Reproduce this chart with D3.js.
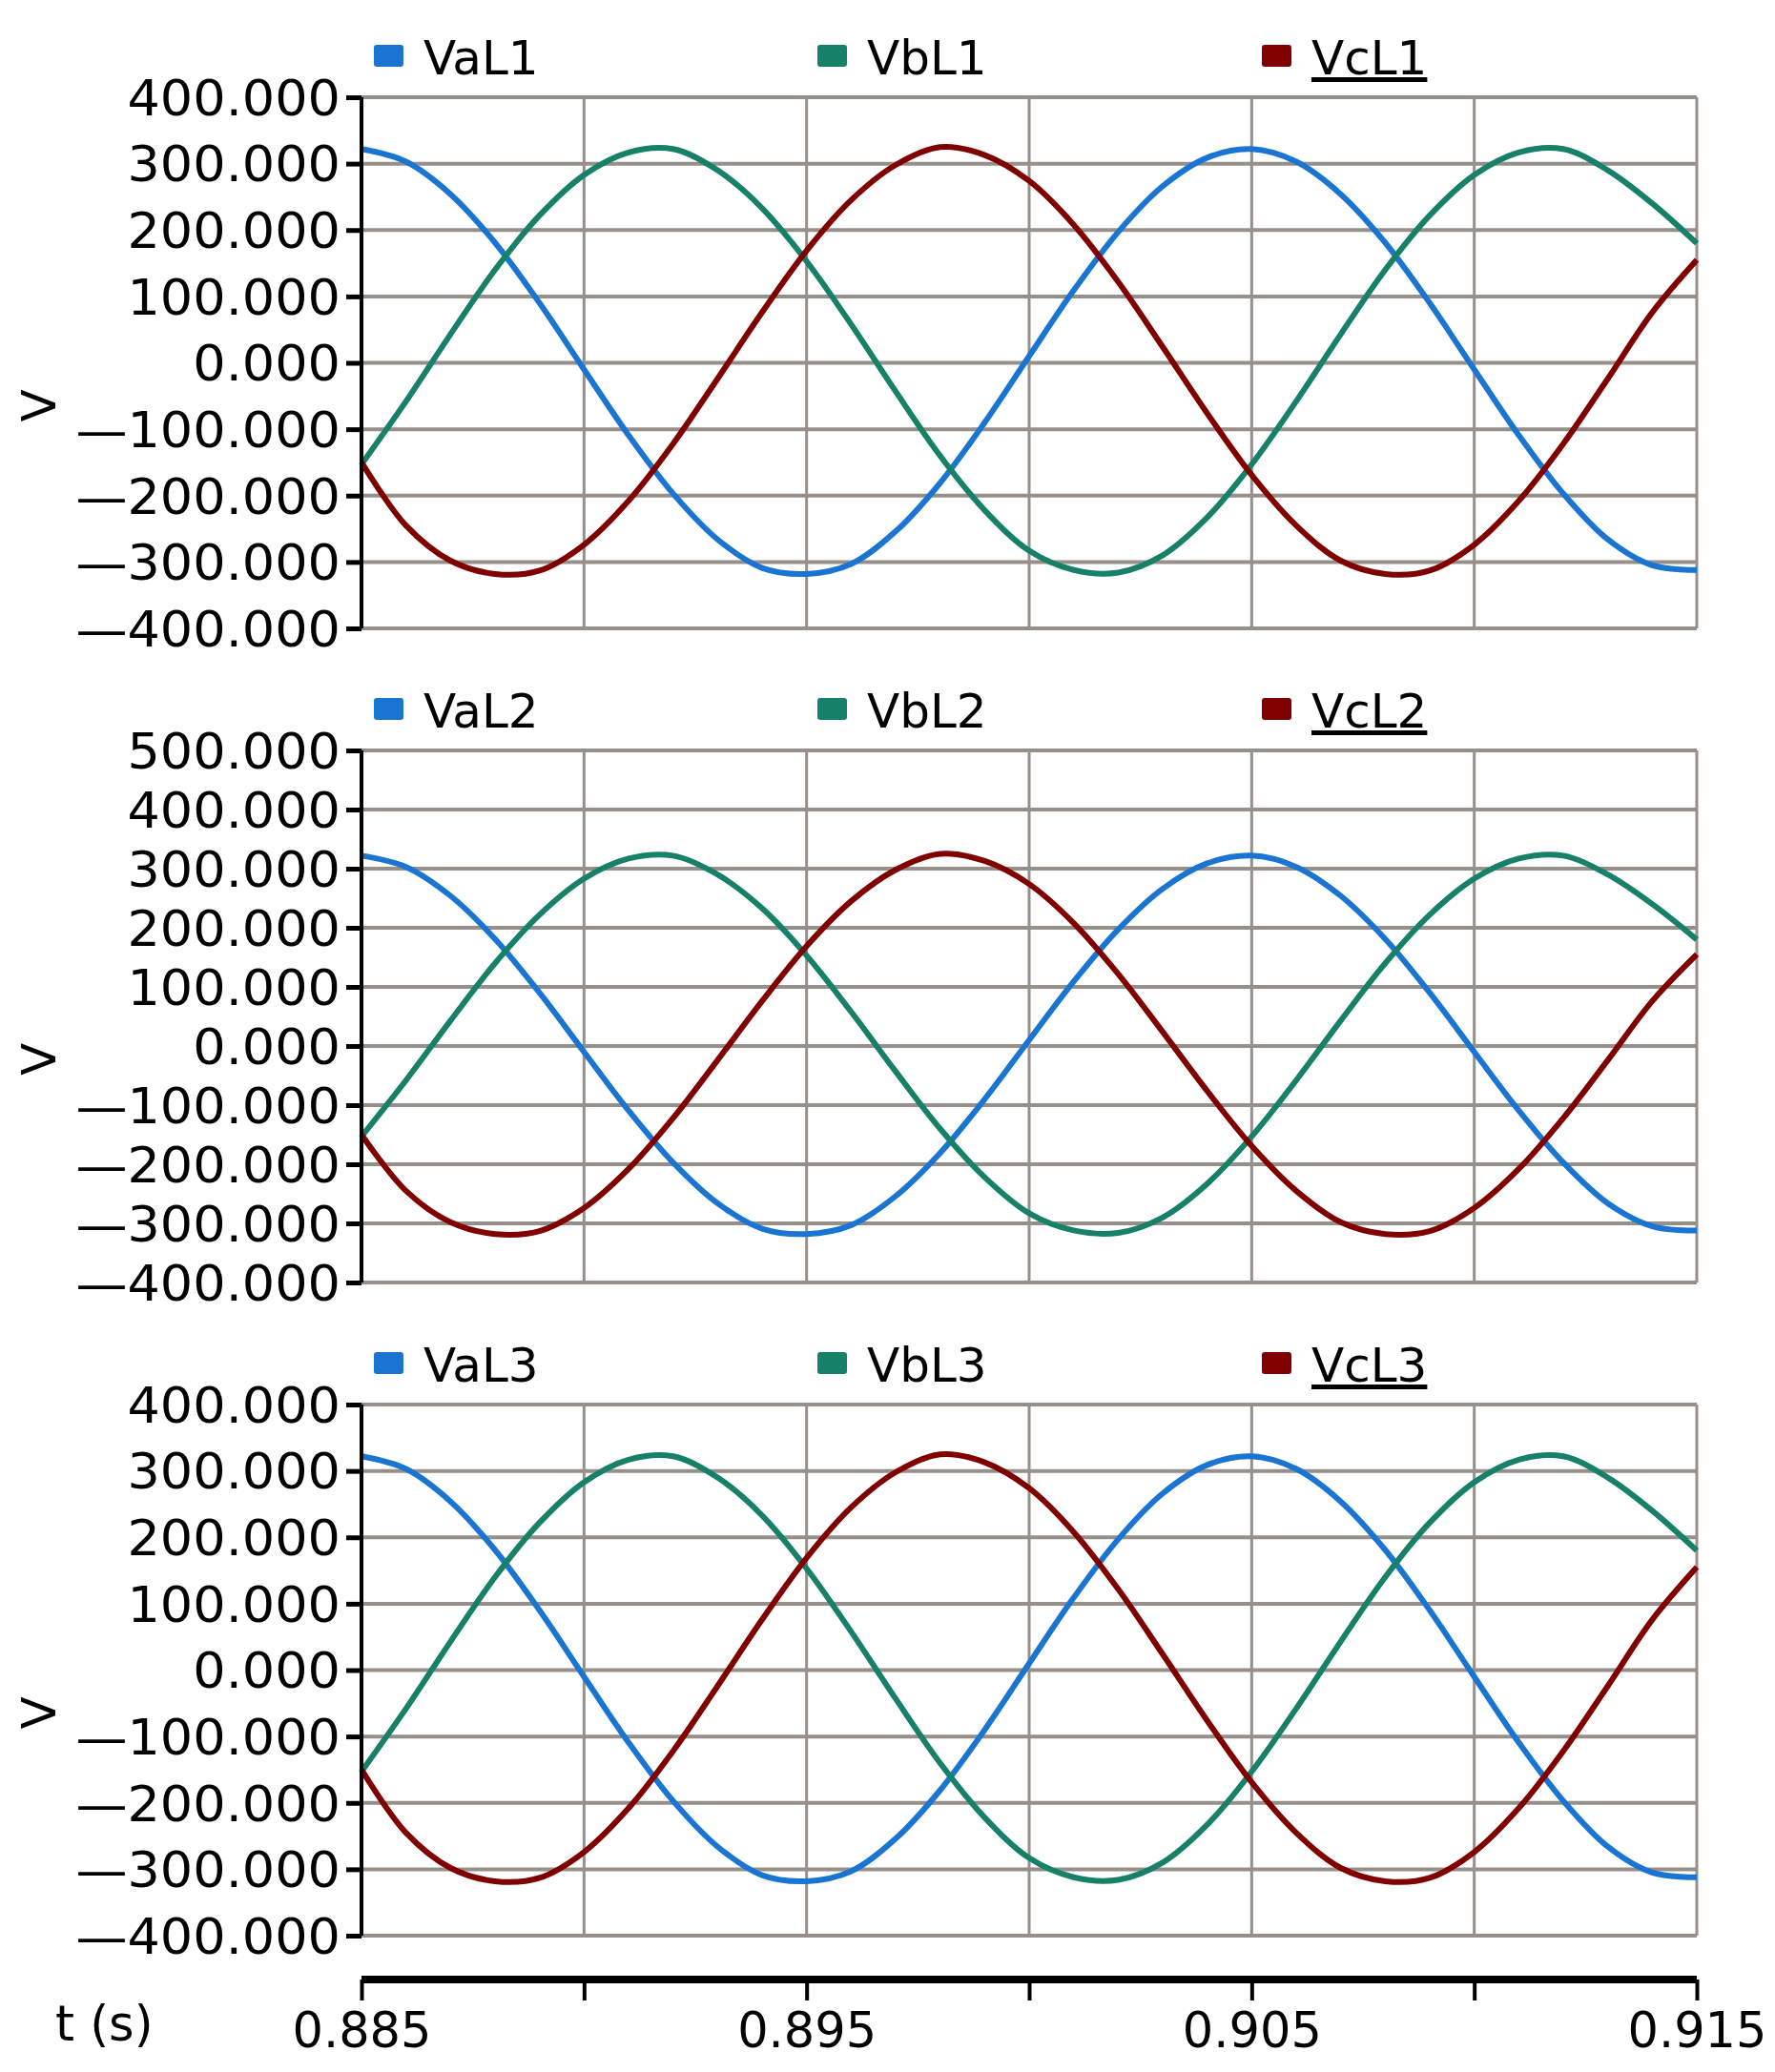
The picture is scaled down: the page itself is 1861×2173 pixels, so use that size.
<!DOCTYPE html>
<html>
<head>
<meta charset="utf-8"/>
<script src="https://cdnjs.cloudflare.com/ajax/libs/d3/7.8.5/d3.min.js"></script>
<style>body{margin:0;background:#fff}</style>
</head>
<body>
<script>
// sample times, one every 1 ms
const times = d3.range(31).map(k => 0.885 + k * 0.001);
const va = [322,303,254,181,90,-10,-109,-197,-266,-309,-318,-303,-254,-181,-90,10,109,197,266,309,322,303,254,181,90,-10,-109,-197,-266,-305,-312];
const vb = [-153,-58,43,140,222,283,317,322,290,233,153,58,-43,-140,-222,-283,-312,-316,-290,-233,-153,-58,43,140,222,283,317,322,290,240,180];
const vc = [-150,-245,-298,-318,-313,-274,-208,-122,-24,76,169,245,298,325,313,274,208,122,24,-76,-169,-245,-298,-318,-313,-274,-208,-122,-24,76,155];
const panels = [
  {names: ["VaL1", "VbL1", "VcL1"], ticks: [-400,-300,-200,-100,0,100,200,300,400]},
  {names: ["VaL2", "VbL2", "VcL2"], ticks: [-400,-300,-200,-100,0,100,200,300,400,500]},
  {names: ["VaL3", "VbL3", "VcL3"], ticks: [-400,-300,-200,-100,0,100,200,300,400]}
];
const xTicks = [0.885, 0.890, 0.895, 0.900, 0.905, 0.910, 0.915];
const xLabels = [0.885, 0.895, 0.905, 0.915];
const colors = ["#1a75d2", "#168069", "#800000"];
const series = [va, vb, vc];

const W = 1861, H = 2173;
const left = 379, right = 1779;
const tops = [102, 787, 1473], bottoms = [659, 1345, 2030];
const font = "DejaVu Sans, Verdana, sans-serif";
const grid = "#968f8a";

const svg = d3.select("body").append("svg").attr("width", W).attr("height", H);
const x = d3.scaleLinear().domain([0.885, 0.915]).range([left, right]);
const fmt = v => (v < 0 ? "\u2014" + Math.abs(v).toFixed(3) : v.toFixed(3));

panels.forEach((p, i) => {
  const y = d3.scaleLinear().domain(d3.extent(p.ticks)).range([bottoms[i], tops[i]]);
  const g = svg.append("g");
  // grid
  g.selectAll(".vg").data(xTicks.slice(1)).join("line")
    .attr("x1", d => x(d)).attr("x2", d => x(d))
    .attr("y1", tops[i]).attr("y2", bottoms[i])
    .attr("stroke", grid).attr("stroke-width", 3);
  g.selectAll(".hg").data(p.ticks).join("line")
    .attr("x1", left).attr("x2", right)
    .attr("y1", d => y(d)).attr("y2", d => y(d))
    .attr("stroke", grid).attr("stroke-width", 4);
  // series
  const line = d3.line().x((d, k) => x(times[k])).y(d => y(d)).curve(d3.curveCatmullRom);
  series.forEach((s, j) => {
    g.append("path").attr("d", line(s)).attr("fill", "none")
      .attr("stroke", colors[j]).attr("stroke-width", 6);
  });
  // y axis
  const ax = g.append("g").attr("transform", `translate(${left},0)`)
    .call(d3.axisLeft(y).tickValues(p.ticks).tickFormat(fmt).tickSize(16).tickPadding(8));
  ax.select(".domain").attr("stroke-width", 4).attr("d", `M0,${tops[i]}V${bottoms[i]}`);
  ax.selectAll(".tick line").attr("stroke-width", 5);
  ax.selectAll("text").attr("font-family", font).attr("font-size", 51)
    .attr("dy", "0.36em")
    .attr("transform", "scale(1.06,1)").attr("x", -22 / 1.06);
  // V label
  g.append("text").attr("transform", `translate(58,${(tops[i] + bottoms[i]) / 2 + 45}) rotate(-90)`)
    .attr("text-anchor", "middle").attr("font-family", font).attr("font-size", 50).text("V");
  // legend
  const lx = [392, 857, 1323];
  p.names.forEach((n, j) => {
    const ly = tops[i] - 43;
    g.append("rect").attr("x", lx[j]).attr("y", ly - 12).attr("width", 31).attr("height", 23)
      .attr("rx", 3).attr("fill", colors[j]);
    const t = g.append("text").attr("x", lx[j] + 52).attr("y", ly + 19)
      .attr("font-family", font).attr("font-size", 50).text(n);
    if (j === 2) t.attr("text-decoration", "underline");
  });
});

// x axis
const xa = svg.append("g").attr("transform", "translate(0,2076)")
  .call(d3.axisBottom(x).tickValues(xTicks).tickSize(22).tickFormat(d => xLabels.some(v => Math.abs(v - d) < 1e-9) ? d.toFixed(3) : ""));
xa.select(".domain").attr("stroke-width", 8).attr("d", `M${left},0H${right}`);
xa.selectAll(".tick line").attr("stroke-width", 4);
xa.selectAll("text").attr("font-family", font).attr("font-size", 51).attr("dy", "0.9em");
svg.append("text").attr("x", 58).attr("y", 2140).attr("font-family", font).attr("font-size", 51).text("t (s)");
</script>
</body>
</html>
